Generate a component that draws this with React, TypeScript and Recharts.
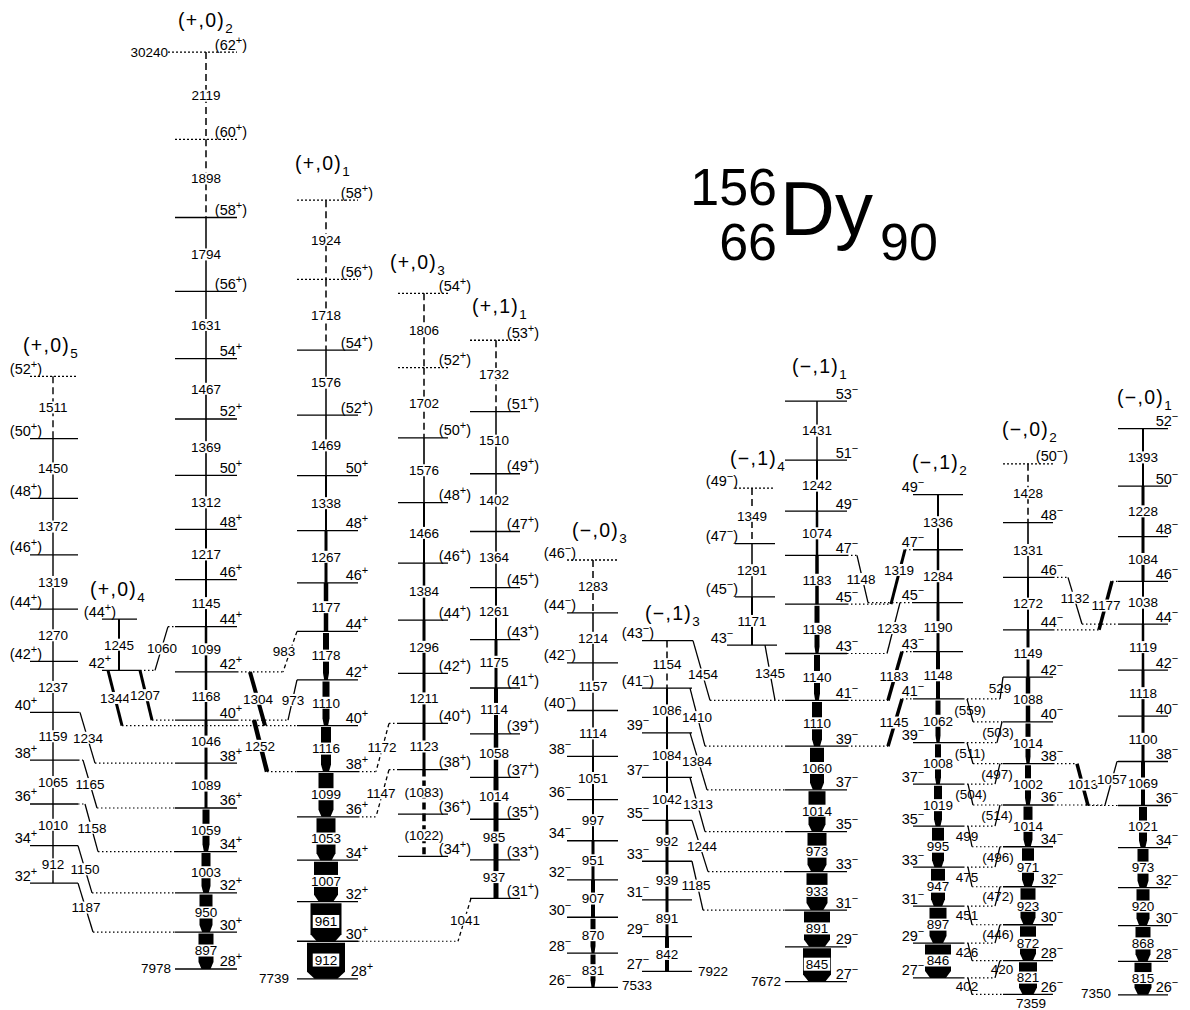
import React from 'react';
import { ComposedChart, XAxis, YAxis, ReferenceLine, ReferenceArea, Scatter } from 'recharts';

const FONT = '"Liberation Sans", Arial, Helvetica, sans-serif';
const CHART_W = 1190;
const CHART_H = 1010;
const E_LOW = 6982;
const E_HIGH = 31505;

// ===== In-band gamma-ray energies (keV) and relative intensities =====
const p05Gammas = [912, 1010, 1065, 1159, 1237, 1270, 1319, 1372, 1450, 1511];
const p05Intensity = [1.4, 1.4, 1.4, 1.4, 1.4, 1.4, 1.4, 1.4, 1.4, 1.4];
const p04Gammas = [1245];
const p04Intensity = [2];
const p02Gammas = [897, 950, 1003, 1059, 1089, 1046, 1168, 1099, 1145, 1217, 1312, 1369, 1467, 1631, 1794, 1898, 2119];
const p02Intensity = [15, 13, 9, 7, 3, 3, 2.5, 2.5, 2, 2, 1.6, 1.6, 1.6, 1.5, 1.5, 1.5, 1.5];
const p01Gammas = [912, 961, 1007, 1053, 1099, 1116, 1110, 1178, 1177, 1267, 1338, 1469, 1576, 1718, 1924];
const p01Intensity = [38, 31, 24, 19, 15, 10, 7, 6, 4.5, 3, 2, 1.6, 1.5, 1.5, 1.5];
const p03Gammas = [1022, 1083, 1123, 1211, 1296, 1384, 1466, 1576, 1702, 1806];
const p03Intensity = [3.5, 3.5, 3, 3, 3, 2.5, 2, 1.6, 1.5, 1.5];
const p11Gammas = [937, 985, 1014, 1058, 1114, 1175, 1261, 1364, 1402, 1510, 1732];
const p11Intensity = [5, 5, 5, 4.5, 4, 3, 2, 1.6, 1.5, 1.5, 1.5];
const m03Gammas = [831, 870, 907, 951, 997, 1051, 1114, 1157, 1214, 1283];
const m03Intensity = [5, 5, 4, 3, 2, 2, 1.6, 1.5, 1.5, 1.5];
const m13Gammas = [842, 891, 939, 992, 1042, 1084, 1086, 1154];
const m13Intensity = [4, 3, 3, 3, 2, 2, 2, 1.5];
const m14Gammas = [1171, 1291, 1349];
const m14Intensity = [2, 1.5, 1.5];
const m11Gammas = [845, 891, 933, 973, 1014, 1060, 1110, 1140, 1198, 1183, 1074, 1242, 1431];
const m11Intensity = [28, 26, 21, 19, 17, 14, 10, 6, 5, 3.5, 2.5, 2, 1.5];
const m12Gammas = [846, 897, 947, 995, 1019, 1008, 1062, 1148, 1190, 1284, 1336];
const m12Intensity = [26, 17, 14, 12, 8, 6, 5, 4, 3, 2.5, 2];
const m02Gammas = [821, 872, 923, 971, 1014, 1002, 1014, 1088, 1149, 1272, 1331, 1428];
const m02Intensity = [18, 16, 15, 12, 9, 6, 5, 4.5, 3, 2, 1.6, 1.5];
const m01Gammas = [815, 868, 920, 973, 1021, 1069, 1100, 1118, 1119, 1038, 1084, 1228, 1393];
const m01Intensity = [17, 15, 13, 11, 8, 4, 3, 3, 2.5, 2, 3, 3, 2];

// ===== Band table =====
const bandIds = ['p05', 'p04', 'p02', 'p01', 'p03', 'p11', 'm03', 'm13', 'm14', 'm11', 'm12', 'm02', 'm01'];
const bandNames = ['(+,0)', '(+,0)', '(+,0)', '(+,0)', '(+,0)', '(+,1)', '(\u2212,0)', '(\u2212,1)', '(\u2212,1)', '(\u2212,1)', '(\u2212,1)', '(\u2212,0)', '(\u2212,0)'];
const bandSubs = ['5', '4', '2', '1', '3', '1', '3', '3', '4', '1', '2', '2', '1'];
const bandBaseEnergies = [10062, 15229, 7978, 7739, 10714, 9692, 7533, 7922, 15843, 7672, 7761, 7359, 7350];
const bandFirstSpin = [32, 42, 28, 28, 34, 31, 26, 27, 43, 27, 27, 26, 26];
const bandParity = ['+', '+', '+', '+', '+', '+', '\u2212', '\u2212', '\u2212', '\u2212', '\u2212', '\u2212', '\u2212'];
const bandTentativeFrom = [42, 44, 56, 52, 34, 31, 40, 41, 45, 99, 99, 50, 99];
const bandDottedFrom = [52, 99, 60, 56, 52, 53, 46, 99, 49, 99, 99, 50, 99];
const bandDashedGammas = [[9], [], [15, 16], [13, 14], [0, 1, 8, 9], [10], [9], [7], [2], [], [], [11], []];
const bandParenGammas = [[], [], [], [], [0, 1], [], [], [], [], [], [], [], []];
const bandBoxedGammaLabels = [[], [], [], [0, 1], [], [], [], [], [], [0], [], [], []];
const bandGammas = [p05Gammas, p04Gammas, p02Gammas, p01Gammas, p03Gammas, p11Gammas, m03Gammas, m13Gammas, m14Gammas, m11Gammas, m12Gammas, m02Gammas, m01Gammas];
const bandIntensity = [p05Intensity, p04Intensity, p02Intensity, p01Intensity, p03Intensity, p11Intensity, m03Intensity, m13Intensity, m14Intensity, m11Intensity, m12Intensity, m02Intensity, m01Intensity];

// ===== Layout of the columns (drawing positions, not data) =====
type Lay = { xL: number; xR: number; xc: number; spinX: number; nameX: number; nameGap: number; gdx?: number; gdy?: number };
const bandLayout: Lay[] = [
  { xL: 30, xR: 78, xc: 53, spinX: 26, nameX: 23, nameGap: 24 },
  { xL: 102, xR: 137, xc: 119, spinX: 100, nameX: 90, nameGap: 23 },
  { xL: 175, xR: 237, xc: 206, spinX: 231, nameX: 178, nameGap: 25 },
  { xL: 297, xR: 358, xc: 326, spinX: 357, nameX: 295, nameGap: 30 },
  { xL: 398, xR: 448, xc: 424, spinX: 455, nameX: 390, nameGap: 24 },
  { xL: 470, xR: 520, xc: 496, spinX: 523, nameX: 472, nameGap: 27, gdx: -2, gdy: -2 },
  { xL: 567, xR: 618, xc: 593, spinX: 560, nameX: 572, nameGap: 23 },
  { xL: 642, xR: 692, xc: 667, spinX: 638, nameX: 645, nameGap: 21 },
  { xL: 735, xR: 775, xc: 752, spinX: 722, nameX: 730, nameGap: 23 },
  { xL: 785, xR: 847, xc: 817, spinX: 847, nameX: 792, nameGap: 28 },
  { xL: 913, xR: 963, xc: 938, spinX: 913, nameX: 912, nameGap: 26 },
  { xL: 1003, xR: 1053, xc: 1028, spinX: 1052, nameX: 1002, nameGap: 28 },
  { xL: 1118, xR: 1168, xc: 1143, spinX: 1167, nameX: 1117, nameGap: 25 },
];
const levelExtentOverride: Record<string, [number, number]> = { 'p02:62': [168, 237], 'p04:42': [102, 140], 'm14:43': [727, 777] };
const spinXOverride: Record<string, number> = { 'p01:28': 362 };

// ===== Inter-band transitions =====
const linkData = [
  { from: 'p05', jf: 32, to: 'p02', jt: 30, label: '1187' },
  { from: 'p05', jf: 34, to: 'p02', jt: 32, label: '1150' },
  { from: 'p05', jf: 36, to: 'p02', jt: 34, label: '1158' },
  { from: 'p05', jf: 38, to: 'p02', jt: 36, label: '1165' },
  { from: 'p05', jf: 40, to: 'p02', jt: 38, label: '1234' },
  { from: 'p04', jf: 42, to: 'p01', jt: 40, label: '1344' },
  { from: 'p04', jf: 42, to: 'p02', jt: 40, label: '1207' },
  { from: 'p02', jf: 44, to: 'p04', jt: 42, label: '1060' },
  { from: 'p01', jf: 44, to: 'p02', jt: 42, label: '983' },
  { from: 'p01', jf: 42, to: 'p02', jt: 40, label: '973' },
  { from: 'p02', jf: 42, to: 'p01', jt: 40, label: '1304' },
  { from: 'p02', jf: 40, to: 'p01', jt: 38, label: '1252' },
  { from: 'p03', jf: 40, to: 'p01', jt: 38, label: '1172' },
  { from: 'p03', jf: 38, to: 'p01', jt: 36, label: '1147' },
  { from: 'p11', jf: 31, to: 'p01', jt: 30, label: '1041' },
  { from: 'm13', jf: 43, to: 'm11', jt: 41, label: '1454' },
  { from: 'm13', jf: 41, to: 'm11', jt: 39, label: '1410' },
  { from: 'm13', jf: 39, to: 'm11', jt: 37, label: '1384' },
  { from: 'm13', jf: 37, to: 'm11', jt: 35, label: '1313' },
  { from: 'm13', jf: 35, to: 'm11', jt: 33, label: '1244' },
  { from: 'm13', jf: 33, to: 'm11', jt: 31, label: '1185' },
  { from: 'm14', jf: 43, to: 'm11', jt: 41, label: '1345' },
  { from: 'm11', jf: 47, to: 'm12', jt: 45, label: '1148' },
  { from: 'm12', jf: 47, to: 'm11', jt: 45, label: '1319' },
  { from: 'm12', jf: 45, to: 'm11', jt: 43, label: '1233' },
  { from: 'm12', jf: 43, to: 'm11', jt: 41, label: '1183' },
  { from: 'm12', jf: 41, to: 'm11', jt: 39, label: '1145' },
  { from: 'm02', jf: 42, to: 'm12', jt: 41, label: '529' },
  { from: 'm12', jf: 41, to: 'm02', jt: 40, label: '(559)' },
  { from: 'm02', jf: 40, to: 'm12', jt: 39, label: '(503)' },
  { from: 'm12', jf: 39, to: 'm02', jt: 38, label: '(511)' },
  { from: 'm02', jf: 38, to: 'm12', jt: 37, label: '(497)' },
  { from: 'm12', jf: 37, to: 'm02', jt: 36, label: '(504)' },
  { from: 'm02', jf: 36, to: 'm12', jt: 35, label: '(514)' },
  { from: 'm12', jf: 35, to: 'm02', jt: 34, label: '499' },
  { from: 'm02', jf: 34, to: 'm12', jt: 33, label: '(496)' },
  { from: 'm12', jf: 33, to: 'm02', jt: 32, label: '475' },
  { from: 'm02', jf: 32, to: 'm12', jt: 31, label: '(472)' },
  { from: 'm12', jf: 31, to: 'm02', jt: 30, label: '451' },
  { from: 'm02', jf: 30, to: 'm12', jt: 29, label: '(446)' },
  { from: 'm12', jf: 29, to: 'm02', jt: 28, label: '426' },
  { from: 'm02', jf: 28, to: 'm12', jt: 27, label: '420' },
  { from: 'm12', jf: 27, to: 'm02', jt: 26, label: '402' },
  { from: 'm02', jf: 46, to: 'm01', jt: 44, label: '1132' },
  { from: 'm01', jf: 46, to: 'm02', jt: 44, label: '1177' },
  { from: 'm02', jf: 38, to: 'm01', jt: 36, label: '1013' },
  { from: 'm01', jf: 38, to: 'm02', jt: 36, label: '1057' },
];
type LL = { xa: number; xb: number; lx: number; dy?: number; w?: number; dashed?: boolean; box?: boolean };
const linkLayout: LL[] = [
  { xa: 78, xb: 93, lx: 86 }, { xa: 78, xb: 92, lx: 85 }, { xa: 85, xb: 98, lx: 92 }, { xa: 83, xb: 97, lx: 90 }, { xa: 80, xb: 95, lx: 88 },
  { xa: 108, xb: 122, lx: 115, w: 3 }, { xa: 140, xb: 152, lx: 145, w: 3 }, { xa: 168, xb: 155, lx: 162 },
  { xa: 297, xb: 283, lx: 284, dashed: true }, { xa: 297, xb: 288, lx: 293 },
  { xa: 250, xb: 265, lx: 258, w: 4 }, { xa: 254, xb: 267, lx: 260, w: 4.5 },
  { xa: 389, xb: 376, lx: 382, dashed: true }, { xa: 389, xb: 376, lx: 381, dashed: true }, { xa: 471, xb: 458, lx: 465, dashed: true },
  { xa: 693, xb: 710, lx: 703, dy: 4 }, { xa: 690, xb: 705, lx: 697 }, { xa: 690, xb: 707, lx: 697 }, { xa: 690, xb: 705, lx: 698 },
  { xa: 692, xb: 708, lx: 702 }, { xa: 692, xb: 703, lx: 696 },
  { xa: 765, xb: 775, lx: 770 }, { xa: 857, xb: 868, lx: 861 },
  { xa: 905, xb: 891, lx: 899, dy: -7, w: 3 }, { xa: 900, xb: 887, lx: 892 }, { xa: 902, xb: 888, lx: 894, w: 3.5 }, { xa: 902, xb: 888, lx: 894, w: 3.5 },
  { xa: 1003, xb: 1000, lx: 1000, box: false },
  { xa: 967, xb: 973, lx: 970, box: false }, { xa: 1002, xb: 997, lx: 998, box: false },
  { xa: 967, xb: 973, lx: 970, box: false }, { xa: 1000, xb: 995, lx: 997, box: false },
  { xa: 968, xb: 973, lx: 971, box: false }, { xa: 1000, xb: 995, lx: 997, box: false },
  { xa: 968, xb: 972, lx: 967, box: false }, { xa: 1000, xb: 995, lx: 998, box: false },
  { xa: 968, xb: 972, lx: 967, box: false }, { xa: 1000, xb: 995, lx: 998, box: false },
  { xa: 968, xb: 972, lx: 967, box: false }, { xa: 1000, xb: 995, lx: 998, box: false },
  { xa: 968, xb: 972, lx: 967, box: false }, { xa: 1000, xb: 995, lx: 1002, box: false },
  { xa: 968, xb: 972, lx: 967, box: false },
  { xa: 1068, xb: 1082, lx: 1075, dy: -3 }, { xa: 1112, xb: 1099, lx: 1106, w: 3.5 },
  { xa: 1077, xb: 1088, lx: 1083, w: 3.5 }, { xa: 1117, xb: 1105, lx: 1112, dy: -4 },
];

// Base-energy labels (keV)
const baseLabelText = ['30240', '7978', '7739', '7533', '7922', '7672', '7359', '7350'];
const baseLabelEnergy = [30240, 7978, 7739, 7533, 7922, 7672, 7359, 7350];
const baseLabelPlace = [
  { x: 168, anchor: 'end', dy: 4.5 }, { x: 171, anchor: 'end', dy: 4.5 }, { x: 289, anchor: 'end', dy: 4.5 },
  { x: 622, anchor: 'start', dy: 3 }, { x: 698, anchor: 'start', dy: 4.5 }, { x: 781, anchor: 'end', dy: 4.5 },
  { x: 1031, anchor: 'middle', dy: 14 }, { x: 1111, anchor: 'end', dy: 3 },
];

// ===== Derived tables =====
const bandIndex: Record<string, number> = {};
bandIds.forEach((id, i) => { bandIndex[id] = i; });
const levelEnergies = (i: number) => {
  const out = [bandBaseEnergies[i]];
  bandGammas[i].forEach((g) => out.push(out[out.length - 1] + g));
  return out;
};
const energyOf = (id: string, spin: number) => {
  const i = bandIndex[id];
  return levelEnergies(i)[(spin - bandFirstSpin[i]) / 2];
};
const extentOf = (id: string, spin: number): [number, number] => {
  const o = levelExtentOverride[`${id}:${spin}`];
  if (o) return o;
  const l = bandLayout[bandIndex[id]];
  return [l.xL, l.xR];
};

type Level = { key: string; e: number; xL: number; xR: number; dotted: boolean };
const levels: Level[] = [];
const spinLabels: any[] = [];
const arrows: any[] = [];
const gammaLabels: any[] = [];
const nameLabels: any[] = [];
bandIds.forEach((id, i) => {
  const es = levelEnergies(i);
  const lay = bandLayout[i];
  es.forEach((e, j) => {
    const spin = bandFirstSpin[i] + 2 * j;
    const [xL, xR] = extentOf(id, spin);
    levels.push({ key: `${id}:${spin}`, e, xL, xR, dotted: spin >= bandDottedFrom[i] });
    spinLabels.push({ x: spinXOverride[`${id}:${spin}`] ?? lay.spinX, y: e, spin, parity: bandParity[i], tent: spin >= bandTentativeFrom[i] });
  });
  bandGammas[i].forEach((g, j) => {
    const w = bandIntensity[i][j];
    const dashed = bandDashedGammas[i].includes(j);
    arrows.push({ key: `${id}-g${j}`, x1: lay.xc - w / 2, x2: lay.xc + w / 2, eLow: es[j], eUp: es[j + 1], dashed, w });
    gammaLabels.push({
      x: lay.xc + (lay.gdx ?? 0), y: (es[j] + es[j + 1]) / 2, text: bandParenGammas[i].includes(j) ? `(${g})` : `${g}`,
      box: true, dy: lay.gdy ?? 0, barW: dashed ? 0 : w, boxed: bandBoxedGammaLabels[i].includes(j),
    });
  });
  nameLabels.push({ x: lay.nameX, y: es[es.length - 1], name: bandNames[i], sub: bandSubs[i], gap: lay.nameGap });
});

const links = linkData.map((d, k) => {
  const L = linkLayout[k];
  return { ...d, ...L, ef: energyOf(d.from, d.jf), et: energyOf(d.to, d.jt) };
});
links.forEach((lk) => {
  gammaLabels.push({ x: lk.lx, y: (lk.ef + lk.et) / 2, text: lk.label, box: lk.box !== false, dy: lk.dy ?? 0, barW: 0, boxed: false });
});

// dotted extensions of levels that lead to the inter-band transitions
const extMap: Record<string, { e: number; from: number; to: number }> = {};
const addExt = (id: string, spin: number, x: number) => {
  const [xL, xR] = extentOf(id, spin);
  const e = energyOf(id, spin);
  if (x > xR + 0.5) {
    const k = `${id}:${spin}:R`;
    const cur = extMap[k];
    extMap[k] = { e, from: xR, to: cur ? Math.max(cur.to, x) : x };
  } else if (x < xL - 0.5) {
    const k = `${id}:${spin}:L`;
    const cur = extMap[k];
    extMap[k] = { e, from: cur ? Math.min(cur.from, x) : x, to: xL };
  }
};
links.forEach((lk) => {
  addExt(lk.from, lk.jf, lk.xa);
  addExt(lk.to, lk.jt, lk.xb);
});
const extensions = Object.keys(extMap).map((k) => ({ key: k, ...extMap[k] }));

const baseLabels = baseLabelText.map((t, i) => ({ x: baseLabelPlace[i].x, y: baseLabelEnergy[i], text: t, anchor: baseLabelPlace[i].anchor, dy: baseLabelPlace[i].dy }));

// ===== Shapes =====
const GFS = 13.5;
const textWidth = (s: string, fs: number) =>
  [...s].reduce((a, c) => a + (c >= '0' && c <= '9' ? 0.556 : c === '(' || c === ')' ? 0.333 : 0.55), 0) * fs;

const arrowShape = (a: any) => (p: any) => {
  const { x, y, width, height } = p;
  if (x == null || y == null) return <g />;
  const cx = x + width / 2;
  if (a.dashed) {
    return <line x1={cx} x2={cx} y1={y} y2={y + height} stroke="#000" strokeWidth={Math.max(width, 1.4)} strokeDasharray="7 4" />;
  }
  if (width < 5) {
    const lw = Math.max(width, 1.4);
    return <rect x={cx - lw / 2} y={y} width={lw} height={height} fill="#000" />;
  }
  const t = Math.min(7, height * 0.22);
  const pts = [
    [x, y + 1.5], [x + width, y + 1.5], [x + width, y + height - t],
    [x + width * 0.8, y + height], [x + width * 0.2, y + height], [x, y + height - t],
  ].map((q) => q.join(',')).join(' ');
  return <polygon points={pts} fill="#000" />;
};

const linkShape = (lk: any) => (p: any) => {
  const { x, y, width, height } = p;
  if (x == null || y == null) return <g />;
  const ltr = lk.xb >= lk.xa;
  const x1 = ltr ? x : x + width;
  const x2 = ltr ? x + width : x;
  return (
    <line x1={x1} y1={y} x2={x2} y2={y + height} stroke="#000" strokeWidth={lk.w ?? 1.3}
      strokeDasharray={lk.dashed ? '4 3' : undefined} />
  );
};

const GammaText = (p: any) => {
  const { cx, cy, payload } = p;
  if (cx == null || cy == null) return <g />;
  const tw = textWidth(payload.text, GFS);
  const w = payload.boxed ? tw + 4 : Math.max(tw + 3, payload.barW + 2);
  const h = payload.boxed ? 13 : 12;
  const yy = cy + (payload.dy || 0);
  return (
    <g>
      {payload.box ? <rect x={cx - w / 2} y={yy - h / 2} width={w} height={h} fill="#fff" /> : null}
      <text x={cx} y={yy + 4.8} textAnchor="middle" fontSize={GFS} fontFamily={FONT} fill="#000">{payload.text}</text>
    </g>
  );
};

const SpinText = (p: any) => {
  const { cx, cy, payload } = p;
  if (cx == null || cy == null) return <g />;
  return (
    <text x={cx} y={cy - 2.5} textAnchor="middle" fontSize={14.5} fontFamily={FONT} fill="#000">
      {payload.tent ? '(' : ''}{payload.spin}
      <tspan dy={-6} fontSize={11}>{payload.parity}</tspan>
      {payload.tent ? <tspan dy={6}>)</tspan> : null}
    </text>
  );
};

const NameText = (p: any) => {
  const { cx, cy, payload } = p;
  if (cx == null || cy == null) return <g />;
  return (
    <text x={cx} y={cy - payload.gap} fontSize={19.5} letterSpacing={1.3} fontFamily={FONT} fill="#000">
      {payload.name}
      <tspan dy={6} fontSize={13.5}>{payload.sub}</tspan>
    </text>
  );
};

const BaseText = (p: any) => {
  const { cx, cy, payload } = p;
  if (cx == null || cy == null) return <g />;
  return (
    <text x={cx} y={cy + payload.dy} textAnchor={payload.anchor} fontSize={13.5} fontFamily={FONT} fill="#000">{payload.text}</text>
  );
};

export default function App() {
  return (
    <div style={{ position: 'absolute', left: 0, top: 0, width: CHART_W, height: CHART_H, background: '#fff' }}>
      <ComposedChart width={CHART_W} height={CHART_H} margin={{ top: 0, right: 0, bottom: 0, left: 0 }}>
        <XAxis type="number" dataKey="x" domain={[0, CHART_W]} hide allowDataOverflow scale="linear" />
        <YAxis type="number" dataKey="y" domain={[E_LOW, E_HIGH]} hide allowDataOverflow scale="linear" />
        {levels.map((l) => (
          <ReferenceLine key={`lv-${l.key}`} segment={[{ x: l.xL, y: l.e }, { x: l.xR, y: l.e }]} stroke="#000"
            strokeWidth={1.3} strokeDasharray={l.dotted ? '2 2' : undefined} ifOverflow="visible" />
        ))}
        {extensions.map((x) => (
          <ReferenceLine key={`ex-${x.key}`} segment={[{ x: x.from, y: x.e }, { x: x.to, y: x.e }]} stroke="#000"
            strokeWidth={1.2} strokeDasharray="1.5 2.5" ifOverflow="visible" />
        ))}
        {arrows.map((a) => (
          <ReferenceArea key={`ar-${a.key}`} x1={a.x1} x2={a.x2} y1={a.eLow} y2={a.eUp} ifOverflow="visible" shape={arrowShape(a)} />
        ))}
        {links.map((lk, i) => (
          <ReferenceArea key={`lk-${i}`} x1={lk.xa} x2={lk.xb} y1={lk.et} y2={lk.ef} ifOverflow="visible" shape={linkShape(lk)} />
        ))}
        <Scatter data={gammaLabels} shape={GammaText} isAnimationActive={false} />
        <Scatter data={spinLabels} shape={SpinText} isAnimationActive={false} />
        <Scatter data={nameLabels} shape={NameText} isAnimationActive={false} />
        <Scatter data={baseLabels} shape={BaseText} isAnimationActive={false} />
      </ComposedChart>
      <svg width={CHART_W} height={CHART_H} style={{ position: 'absolute', left: 0, top: 0, pointerEvents: 'none' }}>
        <g fontFamily={FONT} fill="#000">
          <text x={777} y={205} textAnchor="end" fontSize={52}>156</text>
          <text x={777} y={260} textAnchor="end" fontSize={52}>66</text>
          <text x={780} y={235} fontSize={76}>Dy</text>
          <text x={880} y={260} fontSize={52}>90</text>
        </g>
      </svg>
    </div>
  );
}
